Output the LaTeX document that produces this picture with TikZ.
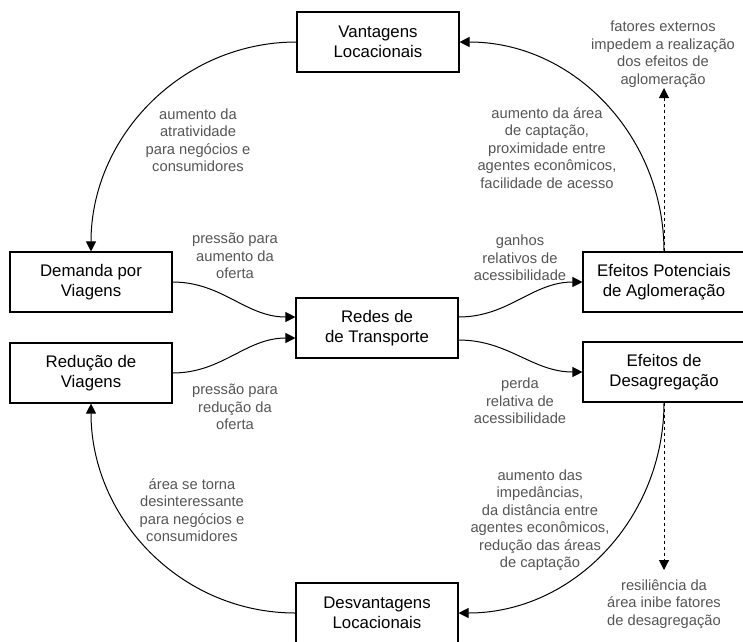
\documentclass[tikz,border=0pt]{standalone}
\usepackage{fontspec}
\setmainfont{Liberation Sans}
\usepackage{xcolor}
\usepackage{tikz}
\usetikzlibrary{arrows.meta,positioning,calc}

\definecolor{labelgray}{HTML}{555555}

\tikzset{
    box/.style={draw, line width=1.1pt, minimum width=162pt, minimum height=60pt,
        align=center, inner sep=2pt, font=\fontsize{16.8}{20}\selectfont},
    lbl/.style={text=labelgray, align=center, inner sep=0pt,
        font=\fontsize{14.7}{17.5}\selectfont},
    flow/.style={line width=1pt, -{Triangle[length=10pt,width=10pt]}},
    ext/.style={flow, dashed}
}

\begin{document}
\begin{tikzpicture}[x=1pt, y=-1pt]
        \useasboundingbox (0,0) rectangle (743,641);

        % Boxes
        \node[box] (vant) at (378,42) {Vantagens\\Locacionais};
        \node[box] (desv) at (377,613) {Desvantagens\\Locacionais};
        \node[box] (dem) at (91,282) {Demanda por\\Viagens};
        \node[box] (red) at (91,373) {Redução de\\Viagens};
        \node[box] (redes) at (377,328) {Redes de\\de Transporte};
        \node[box] (pot) at (664,282) {Efeitos Potenciais\\de Aglomeração};
        \node[box] (desag) at (664,372) {Efeitos de\\Desagregação};

        % Outer loop
        \draw[flow] (vant.west) to[out=180, in=90] (dem.north);
        \draw[flow] (desv.west) to[out=180, in=-90] (red.south);
        \draw[flow] (pot.north) to[out=90, in=0] (vant.east);
        \draw[flow] (desag.south) to[out=-90, in=0] (desv.east);

        % Inner connections
        \draw[flow] (dem.east) to[out=0, in=180] ([yshift=11pt]redes.west);
        \draw[flow] (red.east) to[out=0, in=180] ([yshift=-10pt]redes.west);
        \draw[flow] ([yshift=11pt]redes.east) to[out=0, in=180] (pot.west);
        \draw[flow] ([yshift=-12pt]redes.east) to[out=0, in=180] (desag.west);

        % External factors
        \coordinate (extup) at (664,88);
        \coordinate (resdown) at (664,570);
        \draw[ext] (pot.north) -- (extup);
        \draw[ext] (desag.south) -- (resdown);

        % Labels
        \node[lbl] (lblatr) at (198,140) {aumento da\\atratividade\\para negócios e\\consumidores};
        \node[lbl] (lblcap) at (547,148) {aumento da área\\de captação,\\proximidade entre\\agentes econômicos,\\facilidade de acesso};
        \node[lbl] (lblext) at (663,54) {fatores externos\\impedem a realização\\dos efeitos de\\aglomeração};
        \node[lbl] (lblaum) at (235,256) {pressão para\\aumento da\\oferta};
        \node[lbl] (lblred) at (235,407) {pressão para\\redução da\\oferta};
        \node[lbl] (lblgan) at (520,258) {ganhos\\relativos de\\acessibilidade};
        \node[lbl] (lblper) at (520,401) {perda\\relativa de\\acessibilidade};
        \node[lbl] (lbldes) at (192,510) {área se torna\\desinteressante\\para negócios e\\consumidores};
        \node[lbl] (lblimp) at (540,520) {aumento das\\impedâncias,\\da distância entre\\agentes econômicos,\\redução das áreas\\de captação};
        \node[lbl] (lblres) at (664,604) {resiliência da\\área inibe fatores\\de desagregação};
    \end{tikzpicture}
\end{document}
